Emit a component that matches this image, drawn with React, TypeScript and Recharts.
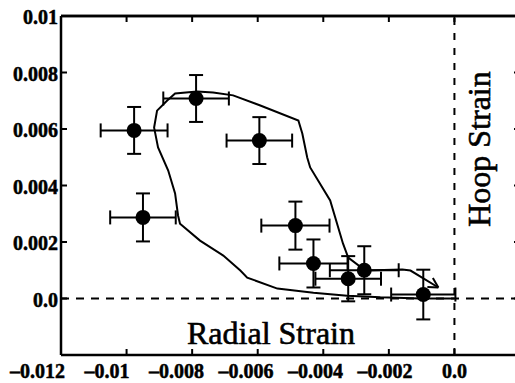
import React from 'react';
import {
  ScatterChart,
  Scatter,
  XAxis,
  YAxis,
  ErrorBar,
  ReferenceLine,
} from 'recharts';

// measured points (radial strain, hoop strain) with error half-widths
const pointRadial = [-0.00977, -0.00788, -0.00595, -0.0095, -0.00485, -0.0043, -0.00324, -0.00275, -0.00095];
const pointHoop = [0.00595, 0.00708, 0.00559, 0.00287, 0.00258, 0.00124, 0.0007, 0.001, 0.00014];
const errRadial = [0.00102, 0.001, 0.001, 0.001, 0.00104, 0.00104, 0.001, 0.00105, 0.00098];
const errHoop = [0.00083, 0.00083, 0.00083, 0.00085, 0.00085, 0.00085, 0.0008, 0.00085, 0.00088];

// model loop, starting at the origin, ending with the arrow
const curveRadial = [
  0.0, -0.00104, -0.00226, -0.00327, -0.0043, -0.0054, -0.00632, -0.00653, -0.00705,
  -0.00776, -0.00837, -0.00843, -0.00852, -0.00873, -0.00904, -0.00916, -0.00907,
  -0.00876, -0.00852, -0.00785, -0.00736, -0.00675, -0.00592, -0.00476, -0.00464,
  -0.00449, -0.0044, -0.00379, -0.0034, -0.00324, -0.00272, -0.00159, -0.00134, -0.00049,
];
const curveHoop = [
  0.0, 0.0, 0.00004, 0.0001, 0.0002, 0.00035, 0.00074, 0.00099, 0.00152,
  0.00205, 0.00265, 0.00294, 0.00372, 0.00453, 0.00535, 0.00605, 0.00665,
  0.00701, 0.00726, 0.00733, 0.00729, 0.00719, 0.00683, 0.0063, 0.00584,
  0.00499, 0.00464, 0.00347, 0.00195, 0.00145, 0.00099, 0.00103, 0.00099, 0.00039,
];

const xTicks = [-0.012, -0.01, -0.008, -0.006, -0.004, -0.002, 0.0];
const xFrameTicks = [-0.012, -0.01, -0.008, -0.006, -0.004, -0.002, 0.0, 0.002];
const xTickLabels = ['\u20130.012', '\u20130.01', '\u20130.008', '\u20130.006', '\u20130.004', '\u20130.002', '0.0'];
const yTicks = [-0.002, 0.0, 0.002, 0.004, 0.006, 0.008, 0.01];
const yTickLabels = ['', '0.0', '0.002', '0.004', '0.006', '0.008', '0.01'];

const points = pointRadial.map((x, i) => ({ x, y: pointHoop[i], ex: errRadial[i], ey: errHoop[i] }));
const curve = curveRadial.map((x, i) => ({ x, y: curveHoop[i] }));

const FONT = '"Liberation Serif", "DejaVu Serif", serif';
const INK = '#000';
const ORIGIN_X = 454; // the labels of the scan spread a little wider than the ticks

const BottomTick = (props: any) => {
  const { x, y, index } = props;
  const lx = x + (x - ORIGIN_X) * 0.06;
  return (
    <g>
      <line x1={x} y1={y} x2={x} y2={y - 6} stroke={INK} strokeWidth={2} />
      <text x={lx} y={y + 23} textAnchor="middle" fontFamily={FONT} fontWeight="bold" fontSize={20}
        fill={INK} stroke={INK} strokeWidth={0.5}>
        {xTickLabels[index]}
      </text>
    </g>
  );
};

const TopTick = (props: any) => {
  const { x, y } = props;
  return <line x1={x} y1={y} x2={x} y2={y + 6} stroke={INK} strokeWidth={2} />;
};

const LeftTick = (props: any) => {
  const { x, y, index } = props;
  return (
    <g>
      <line x1={x} y1={y} x2={x + 6} y2={y} stroke={INK} strokeWidth={2} />
      <text x={x - 3} y={y + 8} textAnchor="end" fontFamily={FONT} fontWeight="bold" fontSize={20}
        fill={INK} stroke={INK} strokeWidth={0.5}>
        {yTickLabels[index]}
      </text>
    </g>
  );
};

const RightTick = (props: any) => {
  const { x, y } = props;
  return <line x1={x} y1={y} x2={x - 6} y2={y} stroke={INK} strokeWidth={2} />;
};

const Dot = (props: any) => <circle cx={props.cx} cy={props.cy} r={7.5} fill={INK} />;

const lastCurve = curve[curve.length - 1];

// curve vertices are invisible; only the final one carries an open arrowhead
const ArrowEnd = (props: any) => {
  if (!props.payload || props.payload.x !== lastCurve.x || props.payload.y !== lastCurve.y) return <g />;
  const { cx, cy } = props;
  const ang = Math.atan2(17, 28);
  const len = 11;
  const spread = 0.5;
  const a1 = ang + Math.PI - spread;
  const a2 = ang + Math.PI + spread;
  return (
    <g>
      <line x1={cx} y1={cy} x2={cx + len * Math.cos(a1)} y2={cy + len * Math.sin(a1)} stroke={INK} strokeWidth={2} />
      <line x1={cx} y1={cy} x2={cx + len * Math.cos(a2)} y2={cy + len * Math.sin(a2)} stroke={INK} strokeWidth={2} />
    </g>
  );
};

export default function App() {
  return (
    <div style={{ position: 'absolute', left: 0, top: 0, width: 515, height: 383, overflow: 'hidden', background: '#fff' }}>
      <ScatterChart width={530} height={383} margin={{ top: 15, right: 0, bottom: 0, left: 0 }}>
        <XAxis
          xAxisId={0}
          type="number"
          dataKey="x"
          domain={[-0.012, 0.002]}
          ticks={xTicks}
          orientation="bottom"
          height={28}
          axisLine={{ stroke: INK, strokeWidth: 2.5 }}
          tickLine={false}
          tickSize={0}
          tickMargin={0}
          tick={<BottomTick />}
          interval={0}
          allowDataOverflow
        />
        <XAxis
          xAxisId="top"
          type="number"
          dataKey="x"
          domain={[-0.012, 0.002]}
          ticks={xFrameTicks}
          orientation="top"
          height={1}
          axisLine={{ stroke: INK, strokeWidth: 2.5 }}
          tickLine={false}
          tickSize={0}
          tickMargin={0}
          tick={<TopTick />}
          interval={0}
          allowDataOverflow
        />
        <YAxis
          yAxisId={0}
          type="number"
          dataKey="y"
          domain={[-0.002, 0.01]}
          ticks={yTicks}
          width={61}
          axisLine={{ stroke: INK, strokeWidth: 2.5 }}
          tickLine={false}
          tickSize={0}
          tickMargin={0}
          tick={<LeftTick />}
          interval={0}
          allowDataOverflow
        />
        <YAxis
          yAxisId="right"
          type="number"
          dataKey="y"
          orientation="right"
          domain={[-0.002, 0.01]}
          ticks={yTicks}
          width={10}
          axisLine={{ stroke: INK, strokeWidth: 2.5 }}
          tickLine={false}
          tickSize={0}
          tickMargin={0}
          tick={<RightTick />}
          interval={0}
          allowDataOverflow
        />
        <ReferenceLine y={0.01} stroke={INK} strokeWidth={2.5} />
        <ReferenceLine y={0} stroke={INK} strokeWidth={2} strokeDasharray="8 7" />
        <ReferenceLine x={0} stroke={INK} strokeWidth={2} strokeDasharray="7 8" />
        <Scatter
          data={curve}
          line={{ stroke: INK, strokeWidth: 2 }}
          lineType="joint"
          shape={<ArrowEnd />}
          isAnimationActive={false}
        />
        <Scatter data={points} shape={<Dot />} isAnimationActive={false}>
          <ErrorBar dataKey="ex" direction="x" width={7} stroke={INK} strokeWidth={2} />
          <ErrorBar dataKey="ey" direction="y" width={7} stroke={INK} strokeWidth={2} />
        </Scatter>
        <text x={187} y={344} fontFamily={FONT} fontSize={32} fill={INK} stroke={INK} strokeWidth={0.6}>
          Radial Strain
        </text>
        <text
          x={490}
          y={149}
          transform="rotate(-90 490 149)"
          textAnchor="middle"
          fontFamily={FONT}
          fontSize={32}
          fill={INK}
          stroke={INK}
          strokeWidth={0.6}
        >
          Hoop Strain
        </text>
      </ScatterChart>
    </div>
  );
}
